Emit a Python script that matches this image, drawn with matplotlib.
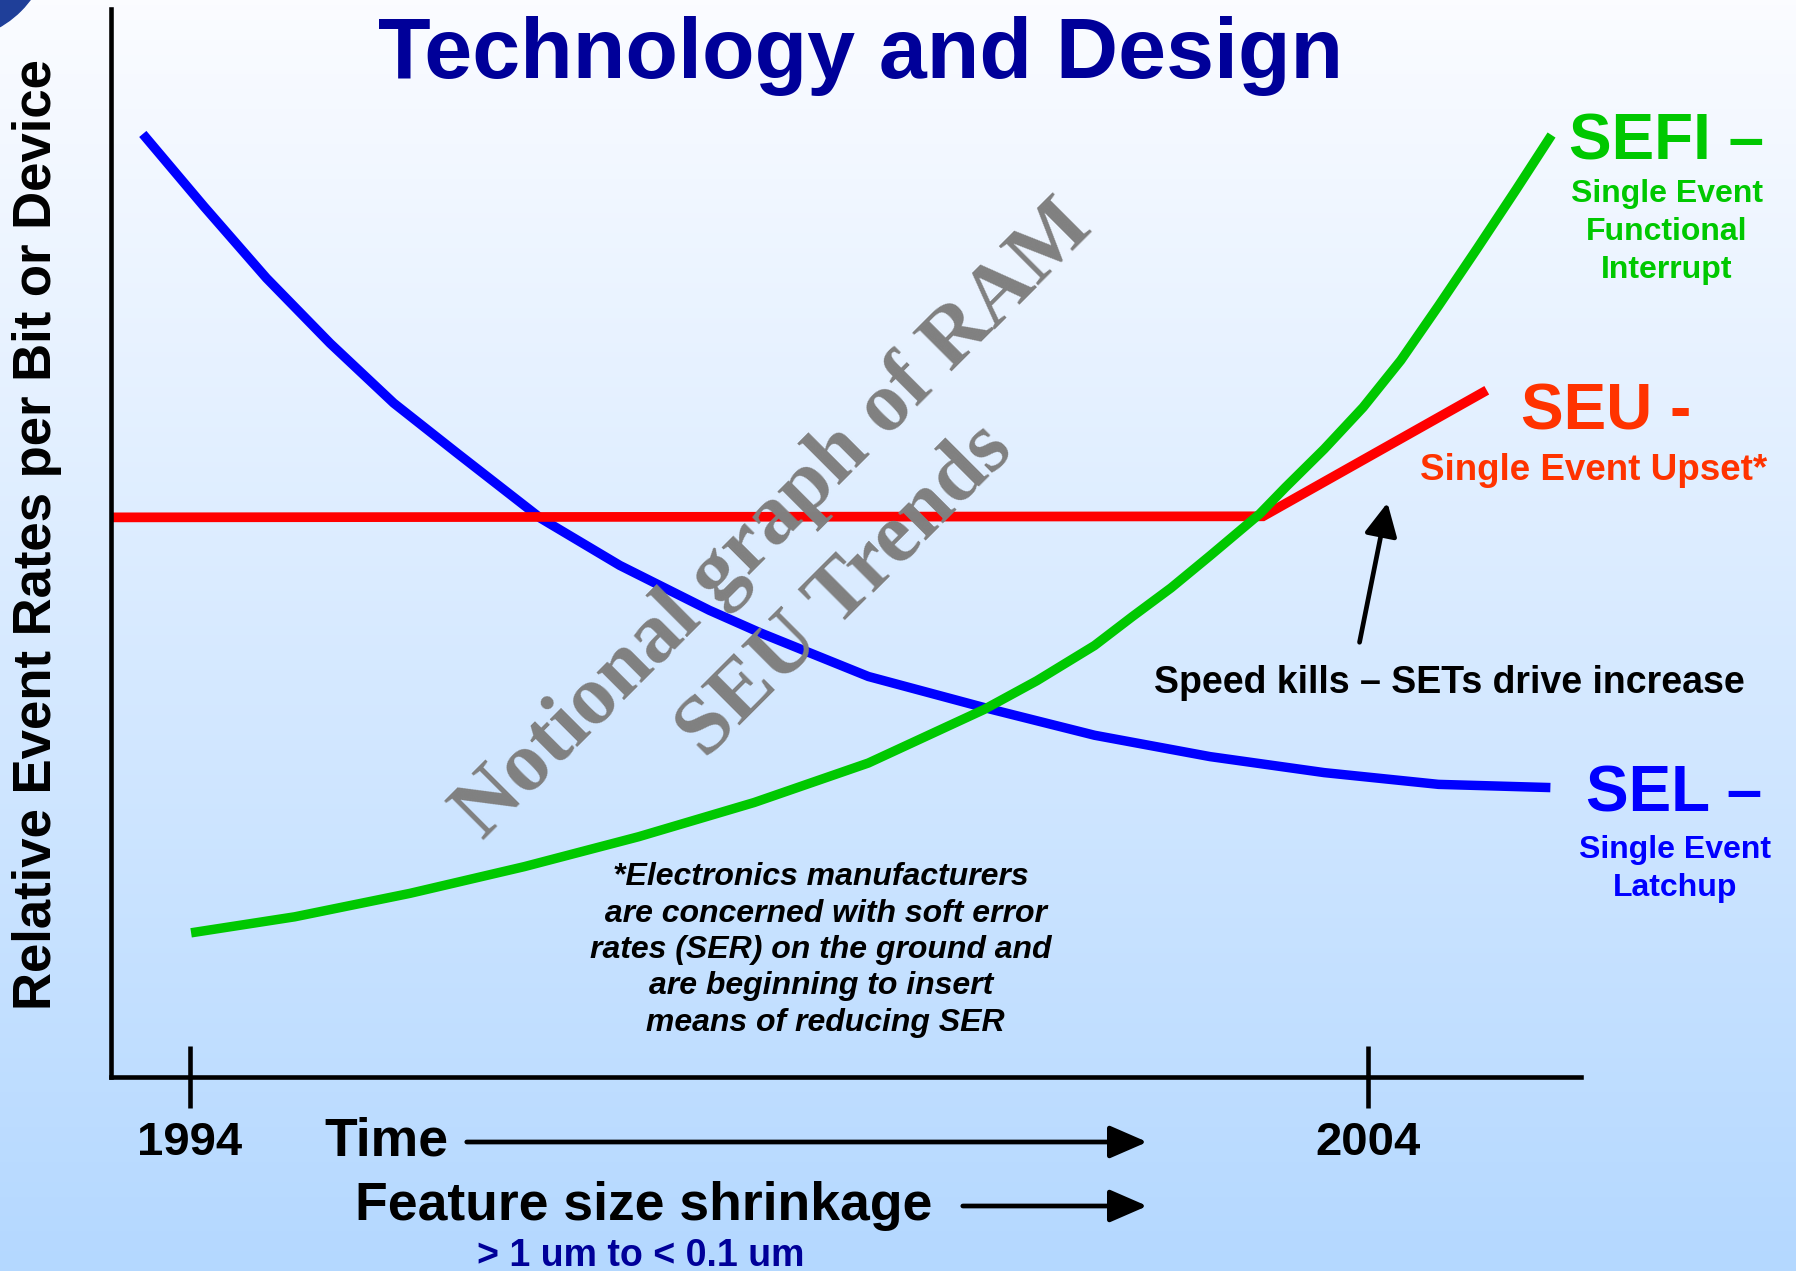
import numpy as np
import matplotlib.pyplot as plt
import matplotlib.transforms as mtransforms
from matplotlib.patches import FancyArrowPatch, Circle

plt.rcParams['font.family'] = ['Liberation Sans', 'DejaVu Sans']

# notional curves (year, relative rate)
sel_years = [1993.60, 1994.12, 1994.65, 1995.19, 1995.73, 1996.27, 1996.98, 1997.65, 1998.41,
             1998.84, 1999.76, 2000.74, 2001.68, 2002.66, 2003.63, 2004.60, 2005.55]
sel_rate = [8.83, 8.15, 7.48, 6.87, 6.31, 5.84, 5.23, 4.79, 4.37,
            4.16, 3.75, 3.46, 3.20, 3.00, 2.85, 2.74, 2.71]

seu_years = [1993.33, 2003.11, 2005.01]
seu_rate = [5.24, 5.25, 6.43]

sefi_years = [1994.01, 1994.89, 1995.87, 1996.84, 1997.81, 1998.79, 1999.76, 2000.74,
              2001.19, 2001.68, 2002.00, 2002.33, 2002.66, 2003.08, 2003.30, 2003.63,
              2003.96, 2004.28, 2004.60, 2004.93, 2005.26, 2005.56]
sefi_rate = [1.35, 1.50, 1.72, 1.97, 2.25, 2.57, 2.94, 3.44,
             3.71, 4.04, 4.31, 4.58, 4.88, 5.27, 5.52, 5.88,
             6.27, 6.71, 7.22, 7.76, 8.31, 8.82]

tick_years = [1994, 2004]
tick_labels = ['1994', '2004']

W, H = 1796, 1271
fig = plt.figure(figsize=(W / 100, H / 100), dpi=100)
# pixel coordinates, origin top-left
px = mtransforms.Affine2D().scale(1 / W, -1 / H).translate(0, 1) + fig.transFigure

# gradient background
bg = fig.add_axes([0, 0, 1, 1], zorder=-10)
top = np.array([251, 252, 255]) / 255
bot = np.array([180, 216, 255]) / 255
t = np.linspace(0, 1, 256)[:, None]
grad = top[None, :] * (1 - t) + bot[None, :] * t
bg.imshow(grad[:, None, :], aspect='auto', extent=[0, 1, 0, 1])
bg.set_axis_off()
fig.add_artist(Circle((-50, -60), 100, transform=px, color='#1F3F99', zorder=1))

ax = fig.add_axes([111 / W, (H - 1077) / H, (1581 - 111) / W, (1077 - 9) / H])
ax.patch.set_alpha(0)
ax.set_xlim(1993.33, 2005.81)
ax.set_ylim(0, 10)
for s in ['top', 'right']:
    ax.spines[s].set_visible(False)
for s in ['left', 'bottom']:
    ax.spines[s].set_linewidth(3.3)
    ax.spines[s].set_color('black')
ax.set_yticks([])
ax.set_xticks(tick_years)
ax.set_xticklabels([])
ax.tick_params(axis='x', direction='inout', length=44, width=3.3)

ax.plot(sel_years, sel_rate, color='#0000FF', lw=6.8, solid_capstyle='butt',
        solid_joinstyle='round', clip_on=False)
ax.plot(seu_years, seu_rate, color='#FF0000', lw=7, solid_capstyle='butt',
        solid_joinstyle='miter', clip_on=False)
ax.plot(sefi_years, sefi_rate, color='#00C800', lw=6.8, solid_capstyle='butt',
        solid_joinstyle='round', clip_on=False)

def txt(x, y, s, **kw):
    kw.setdefault('ha', 'center')
    kw.setdefault('va', 'center')
    kw.setdefault('fontweight', 'bold')
    return fig.text(x, y, s, transform=px, **kw)

def arrow(p0, p1, hl, hw):
    fig.add_artist(FancyArrowPatch(p0, p1, transform=px,
                                   arrowstyle=f'-|>,head_length={hl},head_width={hw}',
                                   mutation_scale=2, lw=3.4, color='black'))

txt(861, 56, 'Technology and Design', fontsize=62, color='#000099')
txt(37, 535, 'Relative Event Rates per Bit or Device', fontsize=38, rotation=90)

# right side labels
green = '#00C800'
txt(1569, 143, 'SEFI –', fontsize=46, color=green, ha='left')
txt(1667, 232, 'Single Event\nFunctional\nInterrupt', fontsize=23, color=green,
    linespacing=1.33)
txt(1521, 413, 'SEU -', fontsize=46, color='#FF3300', ha='left')
txt(1594, 470, 'Single Event Upset*', fontsize=26.5, color='#FF3300')
txt(1586, 795, 'SEL –', fontsize=46, color='#0000FF', ha='left')
txt(1675, 869, 'Single Event\nLatchup', fontsize=23, color='#0000FF', linespacing=1.33)

txt(1449, 683, 'Speed kills – SETs drive increase', fontsize=27)
arrow((1359, 645), (1388, 500), 10, 5)

txt(821, 950, '*Electronics manufacturers\n are concerned with soft error\n'
    'rates (SER) on the ground and\nare beginning to insert\n means of reducing SER',
    fontsize=23, style='italic', linespacing=1.28)

# watermark
txt(810, 556, 'Notional graph of RAM\nSEU Trends', fontsize=61, rotation=45,
    color='#808080', family='Liberation Serif', zorder=20, linespacing=1.4)

# bottom axis texts
for yr, lab in zip(tick_years, tick_labels):
    x_pix = 190 + (yr - 1994) * (1368 - 190) / 10
    txt(x_pix, 1143, lab, fontsize=34)
txt(324, 1141, 'Time', fontsize=38.5, ha='left')
arrow((464, 1142), (1150, 1142), 11.5, 5)
txt(355, 1206, 'Feature size shrinkage', fontsize=38.5, ha='left')
arrow((960, 1206), (1150, 1206), 11.5, 5)
txt(641, 1256, '> 1 um to < 0.1 um', fontsize=27, color='#000099')

fig.savefig('out.png', dpi=100)
